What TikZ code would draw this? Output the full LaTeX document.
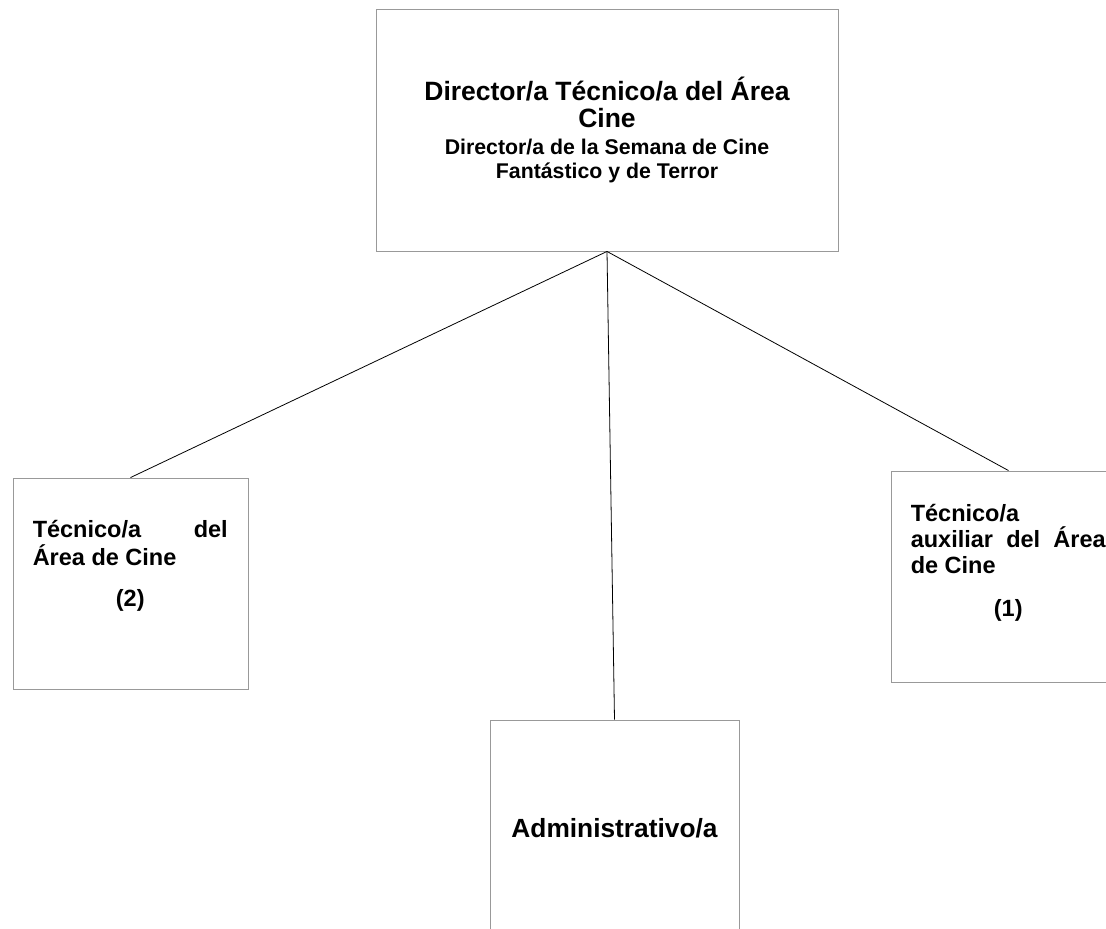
\documentclass[tikz,border=0pt]{standalone}
\usepackage{fontspec}
\setmainfont{Liberation Sans}
\usetikzlibrary{positioning}

\begin{document}
\begin{tikzpicture}[
    x = 1pt, y = -1pt,
    post/.style = {
      draw = black!40,
      line width = 0.9pt,
      inner sep = 0pt,
    },
    post text/.style = {
      inner sep = 0pt,
      text width = 195pt,
      align = justify,
      font = \bfseries\fontsize{23.5}{28}\selectfont,
    },
  ]
  \useasboundingbox (0,0) rectangle (1106,929);
  \clip (0,0) rectangle (1106,929);

  \node (D) [post, minimum width = 462pt, minimum height = 242pt,
    text width = 440pt, align = center, font = \bfseries] at (607,130) {%
    {\fontsize{26.5}{27}\selectfont\spaceskip = .278em\relax
      Director/a Técnico/a del Área\\Cine\par}
    {\fontsize{21.3}{24.5}\selectfont\spaceskip = .278em\relax
      \vskip 2pt Director/a de la Semana de Cine\\Fantástico y de Terror\par}};

  \node (T)  [post, minimum width = 235pt, minimum height = 211pt] at (130.5,583.5) {};
  \node (TA) [post, minimum width = 235pt, minimum height = 211pt] at (1008.5,576.5) {};
  \node (A)  [post, minimum width = 249pt, minimum height = 216pt,
    font = \bfseries\fontsize{26.3}{30}\selectfont] at (614.5,828) {Administrativo/a};

  \node (T text) [post text, below right = 43pt and 20pt of T.north west] {%
    Técnico/a\hfill del\\Área de Cine\par\vskip 13pt\centerline{(2)}};
  \node (TA text) [post text, below right = 34pt and 20pt of TA.north west,
    font = \bfseries\fontsize{23.5}{26}\selectfont] {%
    Técnico/a\\auxiliar\hfill del\hfill Área\\de Cine\par\vskip 17pt\centerline{(1)}};

  \begin{scope}[line width = 0.8pt, black]
    \draw (D.south) -- (T.north);
    \draw (D.south) -- (A.north);
    \draw (D.south) -- (TA.north);
  \end{scope}
\end{tikzpicture}
\end{document}
